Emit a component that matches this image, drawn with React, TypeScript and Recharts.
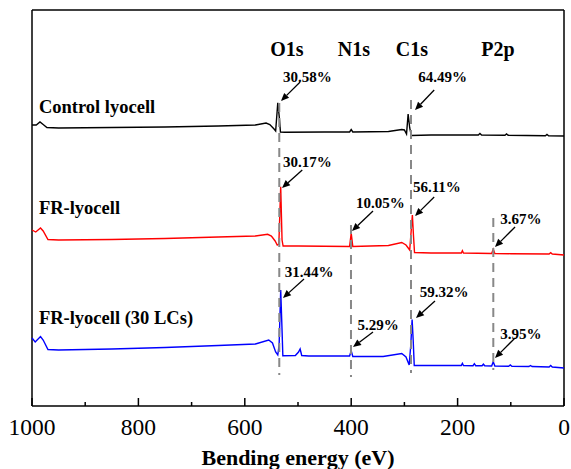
import { LineChart, Line, XAxis, YAxis, ReferenceLine, ReferenceDot, Label } from 'recharts';

// binding energy (eV), intensity (a.u.)
const controlLyocell: [number, number][] = [
  [1000, 281], [992, 281], [985, 284], [979, 281.5], [972, 278.5], [950, 278], [850, 278.5],
  [750, 279], [650, 280], [580, 281], [560, 283], [553, 281.5], [545, 277], [542, 275],
  [538, 303.3], [535, 288], [533, 274], [525, 273.7], [450, 274], [403, 274], [400, 276.5],
  [397, 274], [330, 274.5], [305, 276.5], [300, 276], [296, 272], [293, 292], [290, 278],
  [287, 270.5], [250, 271], [161, 271], [158, 272.5], [155, 271], [111, 270.8], [108, 272],
  [105, 270.8], [35, 270.3], [32, 271.5], [29, 270.3], [0, 270],
];

const frLyocell: [number, number][] = [
  [1000, 176], [993, 174], [984, 178], [979, 175], [970, 166.5], [950, 166], [850, 166.5],
  [750, 167.5], [650, 169], [580, 170], [557, 171.7], [550, 170], [543, 165], [539, 161],
  [536, 162], [532.5, 219.3], [530, 166], [528, 160], [500, 160], [403, 159.5], [400, 173],
  [397, 159.5], [330, 160.5], [305, 163.5], [297, 161], [290, 156], [288, 170], [285, 191],
  [283, 171], [281, 153.5], [250, 153], [193, 153], [191, 155.3], [189, 153], [136, 152.5],
  [133, 156.7], [130, 152.5], [100, 152.3], [28, 152], [25, 153.3], [22, 152], [0, 151],
];

const frLyocell30: [number, number][] = [
  [1000, 68], [994, 64], [984, 69.5], [979, 66], [970, 56.5], [950, 56], [850, 57],
  [750, 58.5], [650, 60.5], [580, 62], [555, 66], [548, 63], [542, 54], [538, 51],
  [535.5, 61], [532.5, 116], [530, 76], [528.5, 50.3], [505, 50.5], [499, 54], [496, 57],
  [493, 50.5], [480, 50], [403, 50], [400, 55.3], [397, 49.5], [340, 49.5], [305, 52.5],
  [297, 49], [291, 41], [288, 61], [285.5, 86.5], [283.5, 66], [281.5, 40.5], [240, 40.5],
  [193, 40.5], [191, 42.7], [189, 40.5], [171, 40.3], [168.5, 42.3], [166, 40.3], [154, 40.2],
  [151.5, 41.8], [149, 40.2], [136, 40], [133, 44.3], [130, 40], [104, 39.8], [101, 41],
  [98, 39.8], [66, 39.5], [63, 40.5], [60, 39.5], [28, 39], [25, 40.5], [22, 39], [0, 38],
];

const xTicks = [0, 100, 200, 300, 400, 500, 600, 700, 800, 900, 1000];

const seriesNames = ['Control lyocell', 'FR-lyocell', 'FR-lyocell (30 LCs)'];
const seriesLabelPos: [number, number][] = [[987, 299], [987, 198], [987, 88]];

// element lines: energy, line top, line bottom
const elements = ['O1s', 'N1s', 'C1s', 'P2p'];
const elementLabelX = [521, 395, 286, 124];
const elementLines: [number, number, number][] = [
  [535.2, 303, 31], [400.4, 181, 29], [287.6, 306, 33], [132.9, 188, 36],
];

// atomic percentages: text, text anchor (eV, a.u.), arrow from -> to
const percents = ['30.58%', '64.49%', '30.17%', '10.05%', '56.11%', '3.67%', '31.44%', '5.29%', '59.32%', '3.95%'];
const percentPos: [number, number][] = [
  [528, 329], [274, 329], [528, 244], [391, 203], [284, 219], [120, 187],
  [525, 134], [388, 81], [271, 114], [120, 72],
];
const arrows: [number, number, number, number][] = [
  [496, 324, 532, 305], [244, 316, 280, 296], [492, 236, 530, 218], [359, 195, 398.5, 175],
  [244, 209, 280, 190], [92, 179, 129.7, 159], [488.7, 127, 528.2, 108], [359, 74, 396.6, 59],
  [242.5, 105, 278.2, 88], [92, 68, 129.7, 48],
];

const FONT = "'Liberation Serif', 'Times New Roman', serif";

const toRows = (pts: [number, number][]) => pts.map(([ev, i]) => ({ ev, i }));

const XTick = (props: any) => {
  const { x, y, payload } = props;
  const major = payload.value % 200 === 0;
  return (
    <g>
      <line x1={x} x2={x} y1={y} y2={y - (major ? 8 : 4)} stroke="#000" strokeWidth={1.5} />
      {major && (
        <text x={x} y={y + 29} textAnchor="middle" fontSize={23.5} fill="#000" style={{ fontFamily: FONT }}>
          {payload.value}
        </text>
      )}
    </g>
  );
};

const Arrow = (props: any) => {
  const { x1, y1, x2, y2 } = props;
  const ang = Math.atan2(y2 - y1, x2 - x1);
  const len = 8;
  const hw = 3.5;
  const bx = x2 - len * Math.cos(ang);
  const by = y2 - len * Math.sin(ang);
  const px = -Math.sin(ang) * hw;
  const py = Math.cos(ang) * hw;
  return (
    <g>
      <line x1={x1} y1={y1} x2={bx} y2={by} stroke="#000" strokeWidth={1.3} />
      <polygon points={`${x2},${y2} ${bx + px},${by + py} ${bx - px},${by - py}`} fill="#000" />
    </g>
  );
};

const textShape = (text: string, size: number, anchor: 'start' | 'middle') => (p: any) => (
  <text x={p.cx} y={p.cy} textAnchor={anchor} dominantBaseline="central" fontSize={size}
    fontWeight="bold" fill="#000" style={{ fontFamily: FONT }}>
    {text}
  </text>
);

export default function App() {
  const colors = ['#000000', '#ff0000', '#0000ff'];
  const series = [controlLyocell, frLyocell, frLyocell30];
  return (
    <div style={{ position: 'absolute', left: 0, top: 0, width: 571, height: 469, overflow: 'hidden', background: '#fff', fontFamily: FONT }}>
      <LineChart width={571} height={469} margin={{ top: 10, right: 7, left: 32, bottom: 3 }}>
        <XAxis
          type="number"
          dataKey="ev"
          domain={[0, 1000]}
          reversed
          ticks={xTicks}
          interval={0}
          tickSize={0}
          tickMargin={0}
          tickLine={false}
          tick={<XTick />}
          height={60}
          axisLine={{ stroke: '#000', strokeWidth: 1.5 }}
        >
          <Label value="Bending energy (eV)" position="insideBottom" offset={1}
            style={{ fontSize: 22, fontWeight: 'bold', fontFamily: FONT, fill: '#000' }} />
        </XAxis>
        <YAxis type="number" domain={[0, 396]} hide allowDataOverflow />
        <ReferenceLine y={396} stroke="#000" strokeWidth={1.5} />
        <ReferenceLine x={1000} stroke="#000" strokeWidth={1.5} />
        <ReferenceLine x={0} stroke="#000" strokeWidth={1.5} />
        {series.map((s, k) => (
          <Line key={seriesNames[k]} data={toRows(s)} dataKey="i" name={seriesNames[k]} type="linear"
            stroke={colors[k]} strokeWidth={1.4} dot={false} isAnimationActive={false} />
        ))}
        {elementLines.map(([ev, top, bottom], k) => (
          <ReferenceLine key={elements[k] + 'l'} segment={[{ x: ev, y: top }, { x: ev, y: bottom }]}
            stroke="#888888" strokeWidth={2} strokeDasharray="9 6" />
        ))}
        {elements.map((el, k) => (
          <ReferenceDot key={el} x={elementLabelX[k]} y={357} r={0} shape={textShape(el, 20, 'middle')} />
        ))}
        {seriesNames.map((n, k) => (
          <ReferenceDot key={n + 't'} x={seriesLabelPos[k][0]} y={seriesLabelPos[k][1]} r={0}
            shape={textShape(n, 18.5, 'start')} />
        ))}
        {arrows.map(([xa, ya, xb, yb], k) => (
          <ReferenceLine key={'a' + k} segment={[{ x: xa, y: ya }, { x: xb, y: yb }]} shape={Arrow} />
        ))}
        {percents.map((p, k) => (
          <ReferenceDot key={'p' + k} x={percentPos[k][0]} y={percentPos[k][1]} r={0}
            shape={textShape(p, 15, 'start')} />
        ))}
      </LineChart>
    </div>
  );
}
